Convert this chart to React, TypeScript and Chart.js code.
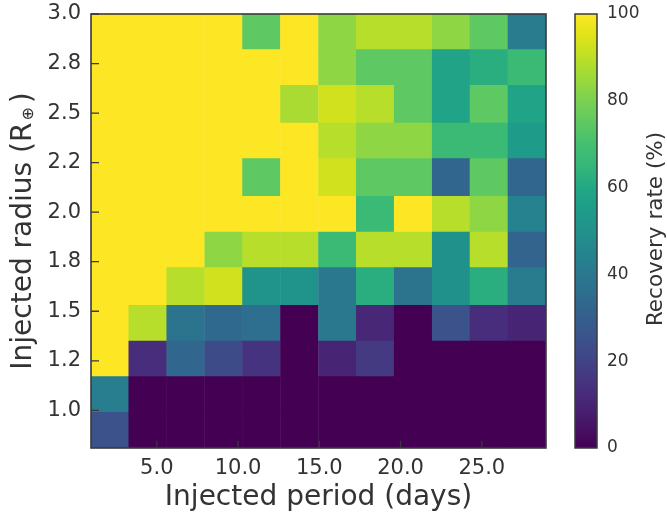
import React, { useEffect, useRef } from 'react';
import { Chart, registerables } from 'chart.js';

Chart.register(...registerables);

// Bin edges (days / Earth radii)
const periodEdges = [0.95, 3.28, 5.6, 7.95, 10.28, 12.6, 14.95, 17.28, 19.6, 21.95, 24.28, 26.6, 28.95];
const radiusEdges = [0.81, 0.99, 1.17, 1.35, 1.53, 1.72, 1.9, 2.08, 2.27, 2.45, 2.64, 2.82, 3.0];

// Recovery rate (%) per radius bin (smallest radius first), 12 period bins each
const rateR0 = [25, 0, 0, 0, 0, 0, 0, 0, 0, 0, 0, 0];
const rateR1 = [42, 0, 0, 0, 0, 0, 0, 0, 0, 0, 0, 0];
const rateR2 = [100, 13, 33, 23, 15, 0, 10, 17, 0, 0, 0, 0];
const rateR3 = [100, 89, 38, 34, 36, 0, 40, 11, 0, 25, 13, 10];
const rateR4 = [100, 100, 89, 93, 51, 51, 40, 62, 38, 50, 62, 41];
const rateR5 = [100, 100, 100, 83, 89, 89, 67, 89, 89, 50, 89, 32];
const rateR6 = [100, 100, 100, 100, 100, 100, 100, 67, 100, 89, 83, 44];
const rateR7 = [100, 100, 100, 100, 75, 100, 93, 75, 75, 33, 75, 33];
const rateR8 = [100, 100, 100, 100, 100, 100, 89, 83, 83, 67, 67, 55];
const rateR9 = [100, 100, 100, 100, 100, 87, 93, 89, 75, 58, 75, 58];
const rateR10 = [100, 100, 100, 100, 100, 100, 83, 75, 75, 58, 62, 67];
const rateR11 = [100, 100, 100, 100, 75, 100, 83, 89, 89, 83, 75, 41];
const recoveryRows = [rateR0, rateR1, rateR2, rateR3, rateR4, rateR5, rateR6, rateR7, rateR8, rateR9, rateR10, rateR11];

// Tick values and labels
const xTickValues = [5, 10, 15, 20, 25];
const xTickLabels = ['5.0', '10.0', '15.0', '20.0', '25.0'];
const yTickValues = [1.0, 1.25, 1.5, 1.75, 2.0, 2.25, 2.5, 2.75, 3.0];
const yTickLabels = ['1.0', '1.2', '1.5', '1.8', '2.0', '2.2', '2.5', '2.8', '3.0'];
const cbTickValues = [0, 20, 40, 60, 80, 100];
const cbTickLabels = ['0', '20', '40', '60', '80', '100'];
const cbMin = 0;
const cbMax = 100;

const xTitle = 'Injected period (days)';
const yTitleMain = 'Injected radius (R';
const yTitleSub = '\u2295';
const yTitleEnd = ')';
const cbTitle = 'Recovery rate (%)';

// viridis colour map
const VIRIDIS = ['#440154', '#471365', '#482475', '#46337f', '#414487', '#3b528b', '#355f8d', '#2f6c8e', '#2a788e', '#25858e', '#21918c', '#1e9c89', '#22a884', '#35b779', '#44bf70', '#5ec962', '#7ad151', '#9bd93c', '#bddf26', '#dfe318', '#fde725'];
const hexToRgb = (h: string) => [parseInt(h.slice(1, 3), 16), parseInt(h.slice(3, 5), 16), parseInt(h.slice(5, 7), 16)];
const VIR_RGB = VIRIDIS.map(hexToRgb);
function viridis(t: number): string {
  const tt = Math.max(0, Math.min(1, t)) * (VIR_RGB.length - 1);
  const i = Math.min(Math.floor(tt), VIR_RGB.length - 2);
  const f = tt - i;
  const a = VIR_RGB[i], b = VIR_RGB[i + 1];
  const c = a.map((v, k) => Math.round(v + (b[k] - v) * f));
  return `rgb(${c[0]},${c[1]},${c[2]})`;
}

const TEXT = '#333333';
const SPINE = '#3a3a3a';
const FONT = "'DejaVu Sans', sans-serif";

const decor = {
  id: 'decor',
  afterDraw(chart: any) {
    const { ctx, chartArea: a, scales } = chart;
    const xs = scales.x, ys = scales.y, cb = scales.cb;
    ctx.save();
    // inward tick marks
    ctx.strokeStyle = SPINE;
    ctx.lineWidth = 1.3;
    ctx.beginPath();
    xs.ticks.forEach((t: any) => {
      const px = xs.getPixelForValue(t.value);
      ctx.moveTo(px, a.bottom);
      ctx.lineTo(px, a.bottom - 7);
    });
    ys.ticks.forEach((t: any) => {
      const py = ys.getPixelForValue(t.value);
      ctx.moveTo(a.left, py);
      ctx.lineTo(a.left + 8, py);
    });
    ctx.stroke();
    // frame
    ctx.lineWidth = 1.6;
    ctx.strokeRect(a.left, a.top, a.right - a.left, a.bottom - a.top);
    // colorbar
    const cbx = a.right + 29;
    const cbw = 22;
    const y0 = cb.getPixelForValue(cbMin);
    const y1 = cb.getPixelForValue(cbMax);
    const g = ctx.createLinearGradient(0, y0, 0, y1);
    VIRIDIS.forEach((c, i) => g.addColorStop(i / (VIRIDIS.length - 1), c));
    ctx.fillStyle = g;
    ctx.fillRect(cbx, y1, cbw, y0 - y1);
    ctx.lineWidth = 1.5;
    ctx.strokeRect(cbx, y1, cbw, y0 - y1);

    // y title with subscript
    ctx.fillStyle = TEXT;
    ctx.textAlign = 'left';
    ctx.textBaseline = 'alphabetic';
    const mainFont = `28px ${FONT}`;
    const subFont = `16px ${FONT}`;
    ctx.save();
    ctx.translate(a.left - 60.5, (a.top + a.bottom) / 2);
    ctx.rotate(-Math.PI / 2);
    ctx.font = mainFont;
    const w1 = ctx.measureText(yTitleMain).width;
    const w3 = ctx.measureText(yTitleEnd).width;
    ctx.font = subFont;
    const w2 = ctx.measureText(yTitleSub).width;
    const gap = 4;
    let x = -(w1 + 2 + w2 + gap + w3) / 2;
    ctx.font = mainFont;
    ctx.fillText(yTitleMain, x, 0);
    x += w1 + 2;
    ctx.font = subFont;
    ctx.fillText(yTitleSub, x, 2);
    x += w2 + gap;
    ctx.font = mainFont;
    ctx.fillText(yTitleEnd, x, 0);
    ctx.restore();

    // colorbar title
    ctx.save();
    ctx.translate(a.right + 115.5, (a.top + a.bottom) / 2 - 2);
    ctx.rotate(-Math.PI / 2);
    ctx.font = `21.5px ${FONT}`;
    ctx.textAlign = 'center';
    ctx.fillText(cbTitle, 0, 0);
    ctx.restore();

    ctx.restore();
  },
};

export default function App() {
  const ref = useRef<HTMLCanvasElement>(null);
  useEffect(() => {
    document.body.style.margin = '0';
    const canvas = ref.current;
    if (!canvas) return;
    Chart.defaults.font.family = FONT;

    const datasets = recoveryRows.map((row, r) => ({
      label: `${radiusEdges[r]}-${radiusEdges[r + 1]}`,
      data: row.map((_, c) => ({
        x: (periodEdges[c] + periodEdges[c + 1]) / 2,
        y: [radiusEdges[r], radiusEdges[r + 1]],
      })),
      backgroundColor: row.map((v) => viridis((v - cbMin) / (cbMax - cbMin))),
      borderWidth: 0,
      grouped: false,
      barPercentage: 1,
      categoryPercentage: 1,
    }));

    const chart = new Chart(canvas, {
      type: 'bar',
      data: { datasets: datasets as any },
      options: {
        responsive: false,
        animation: false,
        devicePixelRatio: 1,
        layout: { padding: { top: 14, left: 0, right: 0, bottom: 0 } },
        plugins: { legend: { display: false }, tooltip: { enabled: false } },
        scales: {
          x: {
            type: 'linear',
            position: 'bottom',
            min: periodEdges[0],
            max: periodEdges[periodEdges.length - 1],
            offset: false,
            grid: { display: false, drawTicks: false },
            border: { display: false },
            afterBuildTicks: (s: any) => {
              s.ticks = xTickValues.map((v) => ({ value: v }));
            },
            ticks: {
              autoSkip: false,
              maxRotation: 0,
              padding: 8,
              color: TEXT,
              font: { size: 21 },
              callback: (_v: any, i: number) => xTickLabels[i],
            },
            title: {
              display: true,
              text: xTitle,
              color: TEXT,
              font: { size: 28 },
              padding: { top: 0, bottom: 2 },
            },
            afterFit: (s: any) => {
              s.height = 69;
              s.paddingLeft = 0;
              s.paddingRight = 0;
            },
          },
          y: {
            type: 'linear',
            position: 'left',
            min: radiusEdges[0],
            max: radiusEdges[radiusEdges.length - 1],
            grid: { display: false, drawTicks: false },
            border: { display: false },
            afterBuildTicks: (s: any) => {
              s.ticks = yTickValues.map((v) => ({ value: v }));
            },
            ticks: {
              autoSkip: false,
              padding: 10,
              color: TEXT,
              font: { size: 21 },
              callback: (_v: any, i: number) => yTickLabels[i],
            },
            afterFit: (s: any) => {
              s.width = 91;
              s.paddingTop = 0;
              s.paddingBottom = 0;
            },
          },
          cb: {
            type: 'linear',
            position: 'right',
            min: cbMin,
            max: cbMax,
            grid: { display: false, drawTicks: false },
            border: { display: false },
            afterBuildTicks: (s: any) => {
              s.ticks = cbTickValues.map((v) => ({ value: v }));
            },
            ticks: {
              autoSkip: false,
              padding: 61,
              color: TEXT,
              font: { size: 17 },
              callback: (_v: any, i: number) => cbTickLabels[i],
            },
            afterFit: (s: any) => {
              s.width = 121;
              s.paddingTop = 0;
              s.paddingBottom = 0;
            },
          },
        },
      } as any,
      plugins: [decor],
    });
    return () => chart.destroy();
  }, []);

  return (
    <div style={{ width: 667, height: 517 }}>
      <canvas ref={ref} width={667} height={517} />
    </div>
  );
}
